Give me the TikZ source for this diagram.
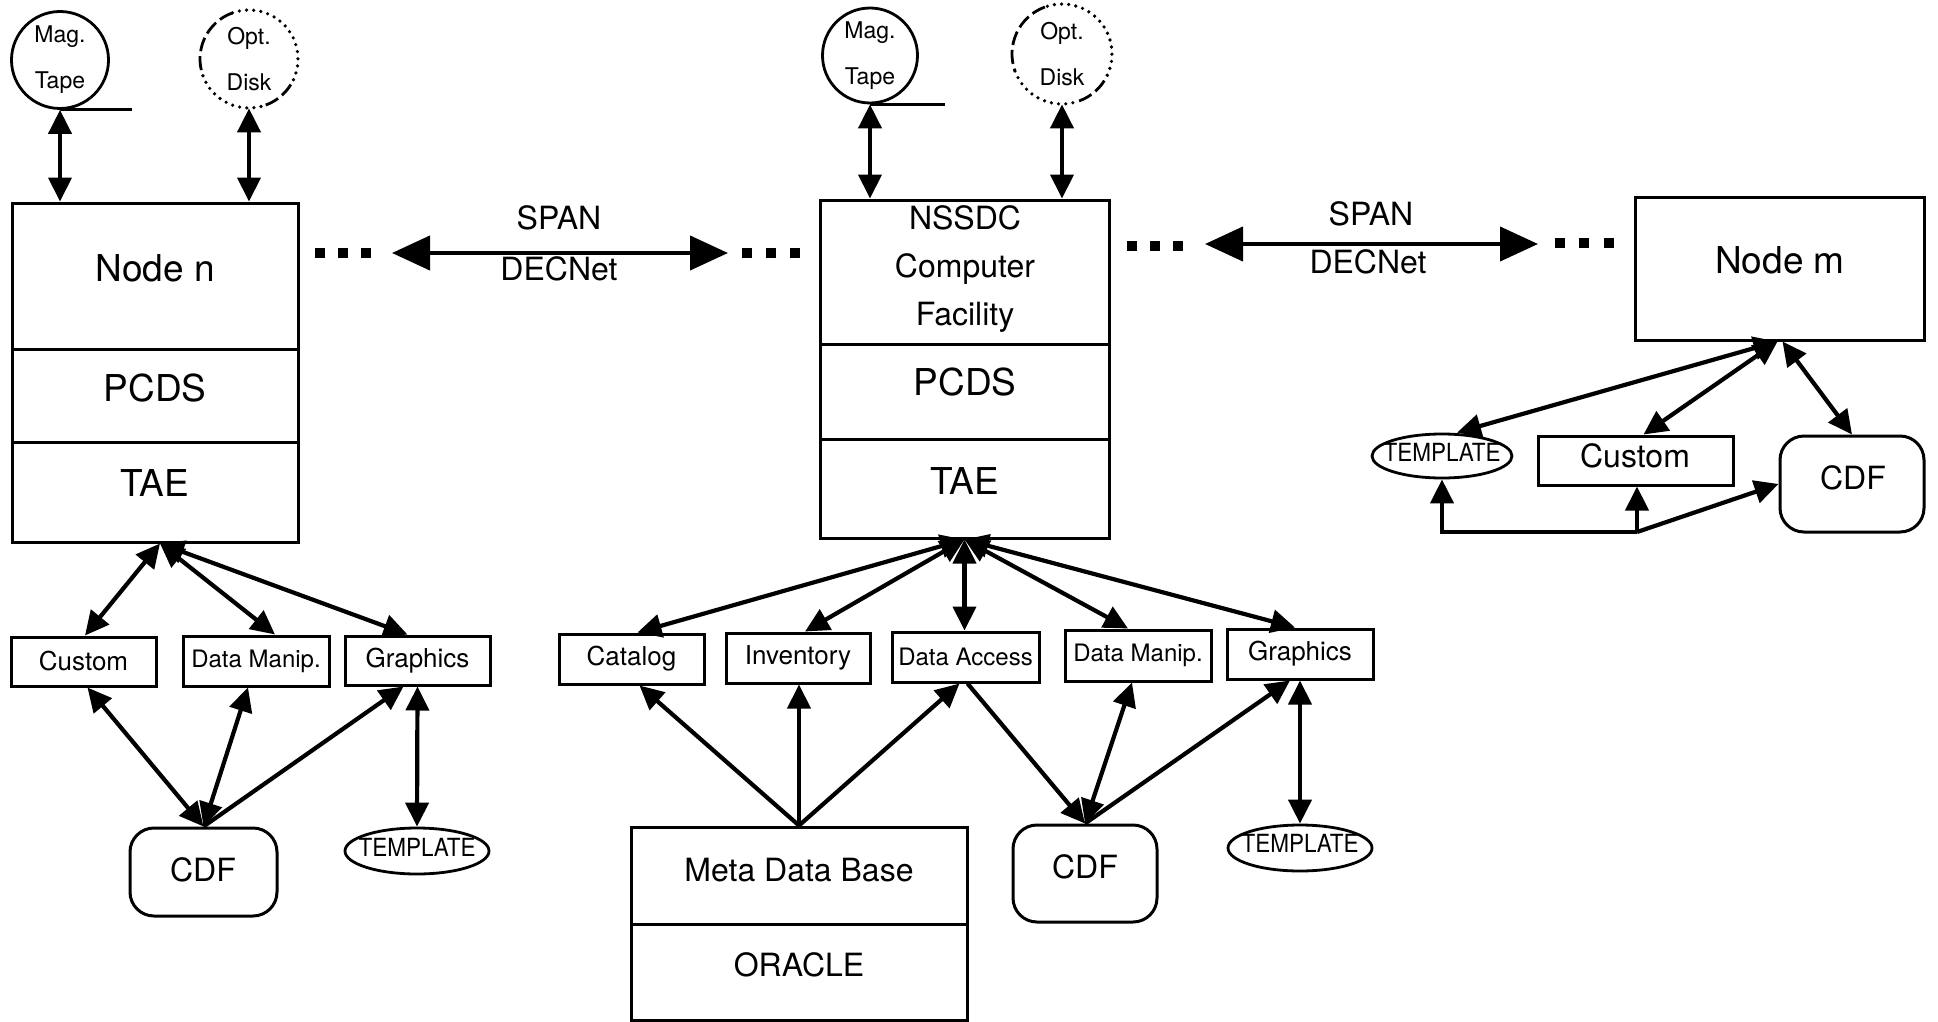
\documentclass[tikz,border=0pt]{standalone}
\usepackage{fontspec}
\usepackage{graphicx}
\setmainfont{TeX Gyre Heros}
\usetikzlibrary{arrows.meta,fit,shapes.geometric}
\newcommand\myfbig{\fontsize{18.5}{21}\selectfont}
\newcommand\myfmid{\fontsize{16}{24}\selectfont}
\newcommand\myfsmall{\fontsize{13}{15}\selectfont}
\newcommand\myftiny{\fontsize{12}{14}\selectfont}
\newcommand\myfcirc{\fontsize{11.5}{23}\selectfont}
\newcommand\myftmpl{\fontsize{12.5}{15}\selectfont}
\newcommand\optarcs[2]{%
 \draw[odash] ([shift={(110:#2)}]#1.center) arc[start angle=110,end angle=200,radius=#2];
 \draw[odot] ([shift={(200:#2)}]#1.center) arc[start angle=200,end angle=290,radius=#2];
 \draw[odash] ([shift={(290:#2)}]#1.center) arc[start angle=290,end angle=335,radius=#2];
 \draw[odot] ([shift={(335:#2)}]#1.center) arc[start angle=335,end angle=470,radius=#2];
}
\begin{document}
\begin{tikzpicture}[x=0.5pt,y=-0.5pt,
 bx/.style={draw, line width=1.5pt, inner sep=0pt, rectangle},
 rb/.style={bx, rounded corners=12pt},
 tp/.style={draw, ellipse, line width=1.4pt, inner sep=0pt, minimum width=72pt, minimum height=23pt},
 tx/.style={inner sep=0pt},
 mag/.style={draw, circle, line width=1.4pt, inner sep=0pt, align=center, font=\myfcirc},
 opt/.style={circle, inner sep=0pt, align=center, font=\myfcirc},
 odash/.style={line width=1.4pt, dash pattern=on 7pt off 2.5pt},
 odot/.style={line width=1.8pt, line cap=round, dash pattern=on 0pt off 3.6pt},
 arr/.style={line width=2.1pt, {Triangle[length=12pt,width=11.5pt]}-{Triangle[length=12pt,width=11.5pt]}},
 arrto/.style={line width=2.1pt, -{Triangle[length=12pt,width=11.5pt]}},
 spanarr/.style={line width=2.1pt, {Triangle[length=19pt,width=17pt]}-{Triangle[length=19pt,width=17pt]}},
 tline/.style={line width=1.4pt}
]
\useasboundingbox (0,0) rectangle (1938,1022);

% ---------- left column ----------
\node[mag, minimum size=48.5pt] (mt1) at (60,60) {Mag.\\Tape};
\draw[tline] (mt1.south) -- ++(72,0);
\node[opt, minimum size=49pt] (od1) at (249,59) {Opt.\\Disk};
\optarcs{od1}{24.5pt}

\node[bx, fit={(12,203) (298,349)}] (L1) {};
\node[bx, fit={(12,349) (298,442)}] (L2) {};
\node[bx, fit={(12,442) (298,542)}] (L3) {};
\node[tx, font=\myfbig] (Lt1) at (155,268) {Node n};
\node[tx, font=\myfbig] (Lt2) at (155,388) {PCDS};
\node[tx, font=\myfbig] (Lt3) at (155,483) {TAE};

\node[bx, fit={(11,637) (156,686)}] (lcust) {};
\node[tx, font=\myfsmall] (lcustt) at (lcust.center) {Custom};
\node[bx, fit={(183,636) (329,686)}] (ldm) {};
\node[tx, font=\myftiny] (ldmt) at (ldm.center) {Data Manip.};
\node[bx, fit={(345,636) (490,685)}] (lgr) {};
\node[tx, font=\myfsmall] (lgrt) at (lgr.center) {Graphics};
\node[rb, fit={(130,828) (277,916)}] (lcdf) {};
\node[tx, font=\myfmid] (lcdft) at (203,870) {CDF};
\node[tp] (ltp) at (417,851) {};
\node[tx, font=\myftmpl] (ltpt) at ([yshift=2pt]ltp.center) {\scalebox{0.9}[1]{TEMPLATE}};

\draw[arr] (mt1.south) -- (mt1.south |- L1.north);
\draw[arr] (od1.south) -- (od1.south |- L1.north);
\coordinate (Lc) at ([xshift=2.5pt]L3.south);
\draw[arr] (Lc) -- ([xshift=0.75pt]lcust.north);
\draw[arr] (Lc) -- ([xshift=9.5pt]ldm.north);
\draw[arr] (Lc) -- ([xshift=-5pt]lgr.north);
\draw[arr] ([xshift=2pt]lcust.south) -- (lcdf.north);
\draw[arr] ([xshift=-4pt]ldm.south) -- (lcdf.north);
\draw[arrto] (lcdf.north) -- ([xshift=-7pt]lgr.south);
\draw[arr] (lgr.south) -- (ltp.north);

% ---------- left link ----------
\foreach \x in {320,343,366} \fill (\x-5,248) rectangle ++(10,10);
\coordinate (s1a) at (392,253);
\coordinate (s1b) at (728,253);
\draw[spanarr] (s1a) -- (s1b);
\node[tx, font=\myfmid] (s1t) at (559,218) {SPAN};
\node[tx, font=\myfmid] (s1d) at (559,269) {DECNet};
\foreach \x in {747,771,795} \fill (\x-5,248) rectangle ++(10,10);

% ---------- center column ----------
\node[mag, minimum size=47.5pt] (mt2) at (870,55.5) {Mag.\\Tape};
\draw[tline] (mt2.south) -- ++(75,0);
\node[opt, minimum size=50pt] (od2) at (1062,54) {Opt.\\Disk};
\optarcs{od2}{25pt}

\node[bx, fit={(820,200) (1109,344)}] (C1) {};
\node[bx, fit={(820,344) (1109,439)}] (C2) {};
\node[bx, fit={(820,439) (1109,538)}] (C3) {};
\node[tx, font=\myfmid, align=center] (Ct1) at (965,269) {NSSDC\\Computer\\Facility};
\node[tx, font=\myfbig] (Ct2) at (965,382) {PCDS};
\node[tx, font=\myfbig] (Ct3) at (965,481) {TAE};

\node[bx, fit={(559,634) (704,684)}] (ccat) {};
\node[tx, font=\myfsmall] (ccatt) at (ccat.center) {Catalog};
\node[bx, fit={(726,633) (870,683)}] (cinv) {};
\node[tx, font=\myfsmall] (cinvt) at (cinv.center) {Inventory};
\node[bx, fit={(892,632) (1039,682)}] (cda) {};
\node[tx, font=\myftiny] (cdat) at (cda.center) {Data Access};
\node[bx, fit={(1065,630) (1211,681)}] (cdm) {};
\node[tx, font=\myftiny] (cdmt) at (cdm.center) {Data Manip.};
\node[bx, fit={(1227,629) (1373,679)}] (cgr) {};
\node[tx, font=\myfsmall] (cgrt) at (cgr.center) {Graphics};

\node[bx, fit={(631,827) (967,924)}] (M1) {};
\node[bx, fit={(631,924) (967,1020)}] (M2) {};
\node[tx, font=\myfmid] (Mt1) at (799,870) {Meta Data Base};
\node[tx, font=\myfmid] (Mt2) at (799,965) {ORACLE};

\node[rb, fit={(1013,825) (1157,922)}] (ccdf) {};
\node[tx, font=\myfmid] (ccdft) at (1085,867) {CDF};
\node[tp] (ctp) at (1300,848) {};
\node[tx, font=\myftmpl] (ctpt) at ([yshift=2.5pt]ctp.center) {\scalebox{0.9}[1]{TEMPLATE}};

\draw[arr] (mt2.south) -- (mt2.south |- C1.north);
\draw[arr] (od2.south) -- (od2.south |- C1.north);
\draw[arr] (C3.south) -- ([xshift=3pt]ccat.north);
\draw[arr] (C3.south) -- ([xshift=3.5pt]cinv.north);
\draw[arr] (C3.south) -- (C3.south |- cda.north);
\draw[arr] (C3.south) -- ([xshift=-5pt]cdm.north);
\draw[arr] (C3.south) -- ([xshift=-2.5pt]cgr.north);
\draw[arrto] (M1.north) -- ([xshift=4pt]ccat.south);
\draw[arrto] (M1.north) -- (M1.north |- cinv.south);
\draw[arrto] (M1.north) -- ([xshift=-3pt]cda.south);
\draw[arrto] ([xshift=1pt]cda.south) -- (ccdf.north);
\draw[arr] ([xshift=-3pt]cdm.south) -- (ccdf.north);
\draw[arrto] (ccdf.north) -- ([xshift=-5pt]cgr.south);
\draw[arr] (cgr.south) -- (ctp.north);

% ---------- right link ----------
\foreach \x in {1132,1155,1178} \fill (\x-5,241) rectangle ++(10,10);
\coordinate (s2a) at (1205,244);
\coordinate (s2b) at (1538,244);
\draw[spanarr] (s2a) -- (s2b);
\node[tx, font=\myfmid] (s2t) at (1371,214) {SPAN};
\node[tx, font=\myfmid] (s2d) at (1368,262) {DECNet};
\foreach \x in {1560,1584,1609} \fill (\x-5,238) rectangle ++(10,10);

% ---------- right column ----------
\node[bx, fit={(1635,197) (1924,340)}] (rN) {};
\node[tx, font=\myfbig] (rNt) at (1780,260) {Node m};
\node[tp, minimum width=70pt, minimum height=22pt] (rT) at (1442,456) {};
\node[tx, font=\myftmpl] (rTt) at ([yshift=2pt]rT.center) {\scalebox{0.9}[1]{TEMPLATE}};
\node[bx, fit={(1538,436) (1733,485)}] (rC) {};
\node[tx, font=\myfmid] (rCt) at (1635,456) {Custom};
\node[rb, fit={(1780,436) (1924,532)}] (rD) {};
\node[tx, font=\myfmid] (rDt) at (1853,478) {CDF};

\draw[arr] ([xshift=-1pt]rN.south) -- ([xshift=7.5pt]rT.north);
\draw[arr] ([xshift=-1pt]rN.south) -- ([xshift=4pt]rC.north);
\draw[arr] ([xshift=1.5pt]rN.south) -- (rD.north);
\coordinate (J) at (1637,532);
\draw[arrto] (J) -- (J |- rC.south);
\draw[arrto] (J) -| (rT.south);
\draw[arrto] (J) -- (rD.west);
\end{tikzpicture}
\end{document}
